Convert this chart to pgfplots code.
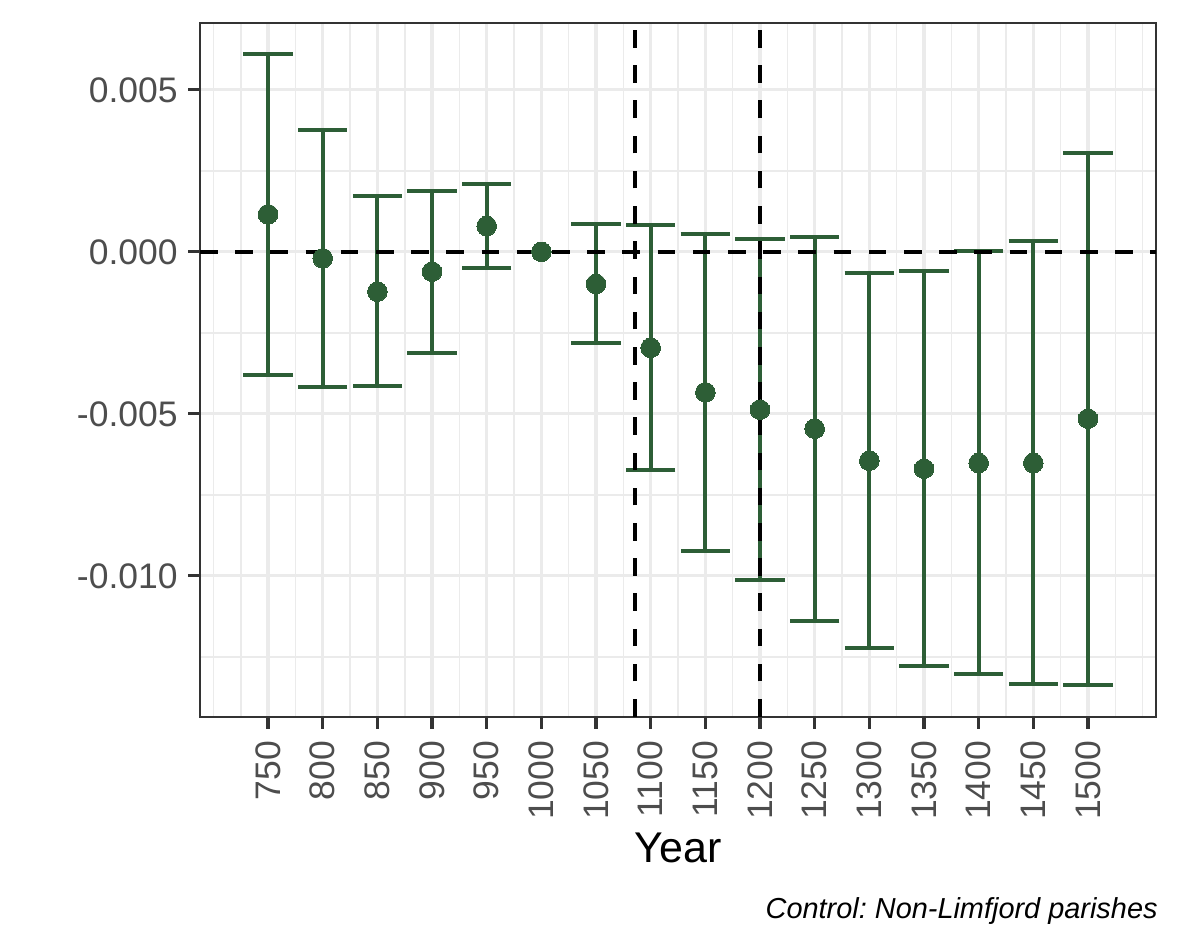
\documentclass[border=0pt]{standalone}
\usepackage{fontspec}
\setmainfont{Liberation Sans}
\usepackage{pgfplots}
\pgfplotsset{compat=1.18}
\usepackage{pgfplotstable}
\definecolor{ptgreen}{RGB}{45,94,54}
\definecolor{grid92}{RGB}{235,235,235}
\definecolor{grey20}{RGB}{51,51,51}
\definecolor{grey30}{RGB}{77,77,77}
\frenchspacing

\pgfplotstableread{
x y ep em
750 0.001157 0.004938 0.004959
800 -0.000201 0.003969 0.003981
850 -0.001231 0.002944 0.002920
900 -0.000614 0.002500 0.002500
950 0.000796 0.001296 0.001305
1050 -0.000994 0.001852 0.001821
1100 -0.002963 0.003778 0.003783
1150 -0.004336 0.004876 0.004889
1200 -0.004873 0.005259 0.005265
1250 -0.005459 0.005925 0.005924
1300 -0.006448 0.005785 0.005770
1350 -0.006695 0.006093 0.006093
1400 -0.006518 0.006543 0.006521
1450 -0.006518 0.006851 0.006820
1500 -0.005151 0.008200 0.008218
}\est

\pgfplotstableread{
x y
1000 0
}\refyear

\begin{document}
\begin{tikzpicture}
\useasboundingbox (0,0) rectangle (590.5pt,472pt);
\begin{axis}[
  at={(100pt,113.75pt)}, anchor=south west,
  scale only axis, width=478pt, height=346.85pt,
  xmin=687.75, xmax=1562.25, ymin=-0.014342, ymax=0.007068,
  axis line style={grey20, line width=1pt},
  tick align=outside, tick pos=left,
  major tick length=6pt, minor tick length=0pt,
  every tick/.style={grey20, line width=1.6pt},
  xtick={750,800,...,1500},
  xticklabels={750,800,850,900,950,1000,1050,1100,1150,1200,1250,1300,1350,1400,1450,1500},
  minor xtick={700,725,...,1550},
  ytick={-0.01,-0.005,0,0.005},
  yticklabels={-0.010,-0.005,0.000,0.005},
  minor ytick={-0.0125,-0.0075,-0.0025,0.0025},
  scaled y ticks=false,
  grid=both,
  major grid style={grid92, line width=1.65pt},
  minor grid style={grid92, line width=0.8pt},
  xticklabel style={rotate=90, anchor=east, inner sep=0pt, xshift=-6pt, font=\fontsize{17.75}{20}\selectfont, text=grey30},
  yticklabel style={anchor=east, inner sep=0pt, xshift=-5pt, font=\fontsize{17.75}{20}\selectfont, text=grey30},
  xlabel={Year},
  xlabel style={at={(axis description cs:0.5,0)}, anchor=base, yshift=-72.75pt, font=\fontsize{21.5}{24}\selectfont},
  clip=true,
]
\addplot[draw=none, mark=none, forget plot,
  error bars/.cd, y dir=both, y explicit, error mark=|,
  error bar style={draw=ptgreen, line width=2pt},
  error mark options={draw=ptgreen, line width=2pt, mark size=12.3pt}]
  table[x=x, y=y, y error plus=ep, y error minus=em]{\est};
\addplot[black, line width=2.1pt, dash pattern=on 8.8pt off 8.8pt] coordinates {(687.75,0) (1562.25,0)};
\addplot[black, line width=2.1pt, dash pattern=on 8.8pt off 8.8pt] coordinates {(1086,-0.014342) (1086,0.007068)};
\addplot[black, line width=2.1pt, dash pattern=on 8.8pt off 8.8pt] coordinates {(1200,-0.014342) (1200,0.007068)};
\addplot[ptgreen, only marks, mark=*, mark size=4.9pt, mark options={draw=ptgreen, fill=ptgreen, line width=0pt}] table[x=x, y=y]{\est};
\addplot[ptgreen, only marks, mark=*, mark size=4.9pt, mark options={draw=ptgreen, fill=ptgreen, line width=0pt}] table[x=x, y=y]{\refyear};
\end{axis}
\node[anchor=base east, font=\itshape\fontsize{14.45}{17}\selectfont, inner sep=0pt] at (579pt,13pt) {Control: Non-Limfjord parishes};
\end{tikzpicture}
\end{document}
